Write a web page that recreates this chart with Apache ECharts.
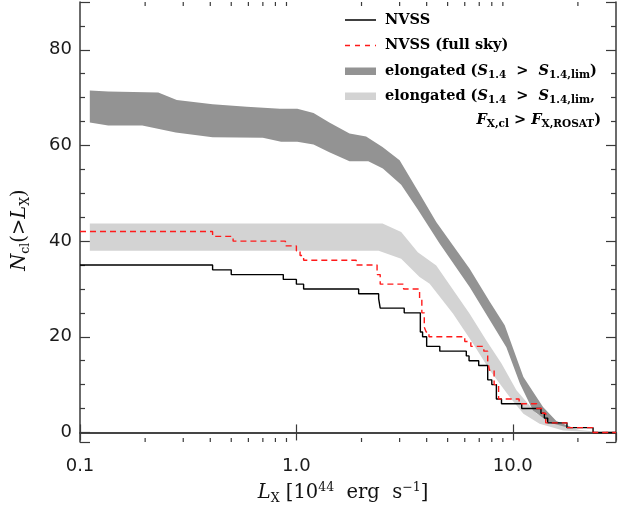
<!DOCTYPE html>
<html><head><meta charset="utf-8">
<script src="https://cdn.jsdelivr.net/npm/echarts@6/dist/echarts.min.js"></script>
<style>html,body{margin:0;padding:0;background:#fff}#c{width:624px;height:505px}</style>
</head><body><div id="c"></div>
<script>
// ---- axes ----
const X_MIN = 0.1, X_MAX = 30, Y_MIN = -2, Y_MAX = 90;
const xTickValues = [0.1, 1, 10];
const xTickLabels = ['0.1', '1.0', '10.0'];
const xMinorTicks = [0.2, 0.3, 0.4, 0.5, 0.6, 0.7, 0.8, 0.9, 2, 3, 4, 5, 6, 7, 8, 9, 20];
const yTickValues = [0, 20, 40, 60, 80];
const yTickLabels = ['0', '20', '40', '60', '80'];

// ---- NVSS (black step line) ----
const nvssL = [0.1, 0.41, 0.50, 0.87, 1.0, 1.08, 1.94, 2.40, 2.44, 3.15, 3.74, 3.83, 4.0, 4.6, 6.1, 6.28, 6.96, 7.66, 8.0, 8.4, 8.87, 11.0, 13.5, 14.0, 14.5, 17.8, 23.5, 30];
const nvssN = [35, 34, 33, 32, 31, 30, 29, 28, 26, 25, 21, 20, 18, 17, 16, 15, 14, 11, 10, 7, 6, 5, 4, 3, 2, 1, 0, 0];

// ---- NVSS full sky (red dashed step line) ----
const fullL = [0.1, 0.41, 0.51, 0.89, 1.0, 1.04, 1.08, 1.89, 2.36, 2.44, 3.13, 3.71, 3.80, 3.90, 3.98, 4.1, 6.0, 6.4, 7.35, 7.66, 7.8, 8.2, 8.6, 10.7, 12.9, 13.7, 14.2, 17.8, 23.5, 30];
const fullN = [42, 41, 40, 39, 38, 37, 36, 35, 33, 31, 30, 28, 25, 22, 21, 20, 19, 18, 17, 15, 13, 10, 7, 6, 5, 4, 2, 1, 0, 0];

// ---- elongated (S > S_lim) band, dark ----
const darkUpperL = [0.111, 0.135, 0.23, 0.28, 0.41, 0.59, 0.84, 1.01, 1.2, 1.42, 1.76, 2.1, 2.5, 3.0, 3.7, 4.43, 6.32, 7.83, 9.18, 11.2, 13.8, 15.9, 18.5];
const darkUpperN = [71.5, 71.3, 71.1, 69.5, 68.6, 68.1, 67.7, 67.7, 66.8, 64.8, 62.5, 61.9, 59.7, 56.9, 50.0, 44.0, 34.2, 27.3, 22.4, 11.6, 5.3, 2.4, 1.2];
const darkLowerL = [0.111, 0.135, 0.194, 0.277, 0.41, 0.70, 0.85, 1.01, 1.2, 1.42, 1.76, 2.15, 2.51, 3.05, 3.64, 4.59, 6.32, 7.69, 9.34, 10.8, 12.4, 14.8, 18.5];
const darkLowerN = [64.8, 64.2, 64.2, 62.7, 61.7, 61.6, 60.8, 60.8, 60.2, 58.6, 56.7, 56.7, 55.2, 51.8, 46.6, 39.5, 30.4, 24.1, 17.8, 10.2, 4.6, 2.0, 0.9];

// ---- elongated (S > S_lim, F > F_ROSAT) band, light ----
const lightUpperL = [0.111, 2.5, 3.05, 3.64, 4.43, 6.32, 7.55, 8.87, 10.4, 12.9, 15.9, 20.4, 25];
const lightUpperN = [43.7, 43.7, 41.9, 37.7, 34.9, 24.8, 19.2, 14.4, 8.8, 3.9, 1.8, 0.5, 0.1];
const lightLowerL = [0.111, 2.4, 3.05, 3.71, 4.13, 5.3, 6.55, 7.83, 9.68, 11.2, 13.3, 17.1, 25];
const lightLowerN = [38.0, 38.0, 36.3, 32.5, 31.1, 24.8, 18.6, 13.0, 7.4, 3.9, 1.8, 0.4, 0.0];

// ---- helpers ----
const pairs = (xs, ys) => xs.map((x, i) => [x, ys[i]]);
const polygonData = (uL, uN, lL, lN) => pairs(uL, uN).concat(pairs(lL, lN).reverse());

function bandSeries(name, data, color) {
  return {
    name, type: 'custom', data, silent: true, z: 1,
    encode: { x: 0, y: 1 },
    renderItem: (params, api) => {
      if (params.dataIndex !== 0) return null;
      const pts = data.map(p => api.coord(p));
      return { type: 'polygon', shape: { points: pts }, style: { fill: color, stroke: null } };
    }
  };
}

const AX = '#3a3a3a';
const TICK_FONT = { fontFamily: 'DejaVu Sans', fontSize: 18, color: '#1a1a1a' };

const xLabelFmt = v => {
  const i = xTickValues.findIndex(t => Math.abs(Math.log10(v) - Math.log10(t)) < 1e-6);
  return i >= 0 ? xTickLabels[i] : '';
};
const yLabelFmt = v => {
  const i = yTickValues.indexOf(Math.round(v * 1000) / 1000);
  return i >= 0 ? yTickLabels[i] : '';
};

const serif = 'DejaVu Serif';
const axisRich = {
  t: { fontFamily: serif, fontSize: 19.5, color: '#111', lineHeight: 24 },
  i: { fontFamily: serif, fontStyle: 'italic', fontSize: 19.5, color: '#111', lineHeight: 24 },
  sub: { fontFamily: serif, fontSize: 12.5, color: '#111', lineHeight: 12, verticalAlign: 'bottom' },
  sup: { fontFamily: serif, fontSize: 12.5, color: '#111', lineHeight: 12, verticalAlign: 'top' }
};

const legRich = {
  b: { fontFamily: serif, fontWeight: 'bold', fontSize: 14.5, fill: '#000', lineHeight: 20 },
  s: { fontFamily: serif, fontWeight: 'bold', fontStyle: 'italic', fontSize: 14.5, fill: '#000', lineHeight: 20 },
  sub: { fontFamily: serif, fontWeight: 'bold', fontSize: 10.5, fill: '#000', lineHeight: 10, verticalAlign: 'bottom' }
};

const chart = echarts.init(document.getElementById('c'), null, { renderer: 'canvas' });

const LX = 345, LW = 31, TX = 385;
function legText(y, text, align) {
  return { type: 'text', x: align === 'right' ? 601 : TX, y, style: { text, rich: legRich, align: align || 'left', verticalAlign: 'middle' }, z: 100 };
}

chart.setOption({
  animation: false,
  backgroundColor: '#fff',
  grid: { left: 80, right: 8, top: 2, bottom: 63, containLabel: false, outerBoundsMode: 'none' },
  xAxis: [{
    type: 'log', logBase: 10, min: X_MIN, max: X_MAX, position: 'bottom',
    axisLine: { lineStyle: { color: AX, width: 1.5 } },
    axisTick: { inside: true, length: 8, lineStyle: { color: AX, width: 1.2 } },
    axisLabel: Object.assign({ formatter: xLabelFmt, margin: 15, showMaxLabel: false }, TICK_FONT),
    splitLine: { show: false },
    name: '{i|L}{sub|X}{t| [10}{sup|44}{t|  erg  s}{sup|−1}{t|]}',
    nameLocation: 'middle', nameGap: 39,
    nameTextStyle: { rich: axisRich, padding: [0, 10, 0, 0] }
  }, {
    type: 'log', logBase: 10, min: X_MIN, max: X_MAX, position: 'top',
    axisLine: { lineStyle: { color: AX, width: 1.5 } },
    axisTick: { inside: true, length: 8, lineStyle: { color: AX, width: 1.2 } },
    axisLabel: { show: false }, splitLine: { show: false }
  }],
  yAxis: [{
    type: 'value', min: Y_MIN, max: Y_MAX, splitNumber: 5, position: 'left',
    axisLine: { show: true, lineStyle: { color: AX, width: 1.5 } },
    axisTick: { show: true, inside: true, length: 10, lineStyle: { color: AX, width: 1.2 } },
    minorTick: { show: true, splitNumber: 4, length: 5, lineStyle: { color: AX, width: 1.2 } },
    axisLabel: Object.assign({ formatter: yLabelFmt, margin: 8 }, TICK_FONT),
    splitLine: { show: false },
    name: '{i|N}{sub|cl}{t|(>}{i|L}{sub|X}{t|)}',
    nameLocation: 'middle', nameGap: 48, nameRotate: 90,
    nameTextStyle: { rich: axisRich, padding: [0, 16, 0, 0] }
  }, {
    type: 'value', min: Y_MIN, max: Y_MAX, splitNumber: 5, position: 'right',
    axisLine: { show: true, lineStyle: { color: AX, width: 1.5 } },
    axisTick: { show: true, inside: true, length: 10, lineStyle: { color: AX, width: 1.2 } },
    minorTick: { show: true, splitNumber: 4, length: 5, lineStyle: { color: AX, width: 1.2 } },
    axisLabel: { show: false }, splitLine: { show: false }
  }],
  series: [
    bandSeries('light', polygonData(lightUpperL, lightUpperN, lightLowerL, lightLowerN), '#d3d3d3'),
    bandSeries('dark', polygonData(darkUpperL, darkUpperN, darkLowerL, darkLowerN), '#939393'),
    {
      name: 'NVSS', type: 'line', step: 'end', data: pairs(nvssL, nvssN), symbol: 'none', z: 3,
      lineStyle: { color: '#000', width: 1.4 }, silent: true
    },
    {
      name: 'NVSS (full sky)', type: 'line', step: 'end', data: pairs(fullL, fullN), symbol: 'none', z: 4,
      lineStyle: { color: '#ff1a1a', width: 1.4, type: [6, 4] }, silent: true
    },
    {
      name: 'minor', type: 'custom', data: xMinorTicks.map(v => [v, 0]), silent: true, z: 5,
      encode: { x: 0, y: 1 }, clip: false,
      renderItem: (params, api) => {
        const v = api.value(0);
        const b = api.coord([v, Y_MIN]);
        const t = api.coord([v, Y_MAX]);
        const st = { stroke: AX, lineWidth: 1.2 };
        return { type: 'group', children: [
          { type: 'line', shape: { x1: b[0], y1: b[1], x2: b[0], y2: b[1] - 4 }, style: st },
          { type: 'line', shape: { x1: t[0], y1: t[1], x2: t[0], y2: t[1] + 4 }, style: st }
        ] };
      }
    }
  ],
  graphic: [
    { type: 'line', shape: { x1: LX, y1: 20, x2: LX + LW, y2: 20 }, style: { stroke: '#000', lineWidth: 1.5 }, z: 100 },
    legText(20, '{b|NVSS}'),
    { type: 'line', shape: { x1: LX, y1: 45.5, x2: LX + LW, y2: 45.5 }, style: { stroke: '#ff1a1a', lineWidth: 1.5, lineDash: [5, 5] }, z: 100 },
    legText(45.5, '{b|NVSS (full sky)}'),
    { type: 'rect', shape: { x: LX, y: 67.5, width: LW, height: 7.5 }, style: { fill: '#939393' }, z: 100 },
    legText(71, '{b|elongated (}{s|S}{sub|1.4}{b|  >  }{s|S}{sub|1.4,lim}{b|)}'),
    { type: 'rect', shape: { x: LX, y: 92.5, width: LW, height: 7.5 }, style: { fill: '#d3d3d3' }, z: 100 },
    legText(96, '{b|elongated (}{s|S}{sub|1.4}{b|  >  }{s|S}{sub|1.4,lim}{b|,}'),
    legText(120, '{s|F}{sub|X,cl}{b| > }{s|F}{sub|X,ROSAT}{b|)}', 'right')
  ]
});
</script>
</body></html>
